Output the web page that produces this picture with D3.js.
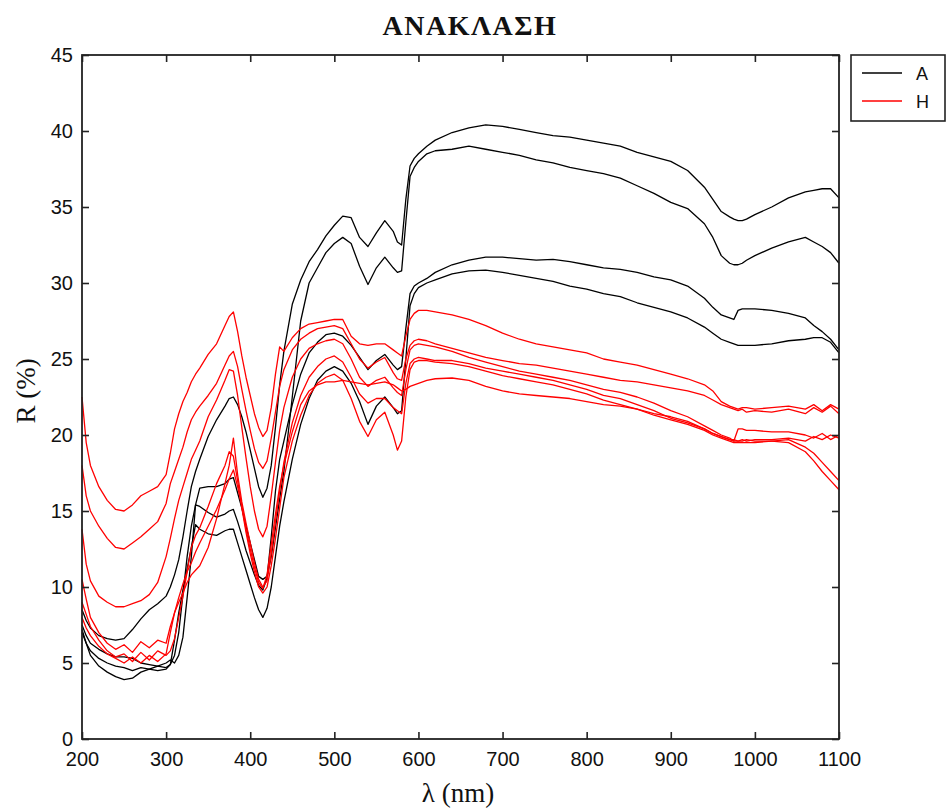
<!DOCTYPE html>
<html>
<head>
<meta charset="utf-8">
<script src="https://cdn.jsdelivr.net/npm/d3@7"></script>
<style>
  html, body { margin: 0; padding: 0; background: #fff; }
  svg { display: block; }
</style>
</head>
<body>
<svg id="chart" width="948" height="809"></svg>
<script>
// Wavelength grid (nm) shared by all spectra
const wavelengths = [
  200, 205, 210, 220, 230, 240, 250, 260, 270, 280, 290, 300,
  305, 310, 315, 320, 325, 330, 335, 340, 350, 360, 370, 375, 380, 385, 390, 395, 400,
  405, 410, 415, 420, 425, 430, 435, 440, 450, 460, 470, 480, 490, 500,
  510, 520, 530, 540, 550, 560, 570, 575, 580, 585, 590, 595, 600, 610, 620,
  640, 660, 680, 700, 720, 740, 760, 780, 800, 820, 840, 860, 880, 900, 920, 940,
  950, 960, 970, 975, 980, 985, 990, 1000, 1020, 1040, 1060, 1070, 1080, 1090, 1100
];

// Reflectance R (%) — group A
const reflA1 = [
  8.5, 7.8, 7.3, 6.8, 6.6, 6.5, 6.6, 7.2, 7.9, 8.5, 8.9, 9.4,
  10.0, 10.8, 11.8, 13.3, 15.0, 16.6, 17.6, 18.4, 19.9, 21.0, 21.9, 22.4, 22.5, 22.0, 21.2, 20.2, 19.0,
  17.8, 16.6, 15.9, 16.5, 18.0, 20.5, 23.3, 25.5, 28.6, 30.2, 31.4, 32.2, 33.1, 33.8,
  34.4, 34.3, 33.0, 32.4, 33.3, 34.1, 33.4, 32.7, 32.5, 35.5, 37.7, 38.2, 38.5, 39.0, 39.4,
  39.9, 40.2, 40.4, 40.3, 40.1, 39.9, 39.7, 39.6, 39.4, 39.2, 39.0, 38.6, 38.3, 38.0, 37.4, 36.3,
  35.5, 34.7, 34.35, 34.2, 34.1, 34.1, 34.2, 34.5, 35.0, 35.6, 36.0, 36.1, 36.2, 36.2, 35.6
];
const reflA2 = [
  7.5, 6.8, 6.3, 5.9, 5.6, 5.4, 5.4, 5.3, 5.0, 4.9, 4.8, 5.0,
  5.2, 5.0, 5.5, 6.7, 9.3, 12.0, 15.4, 16.5, 16.6, 16.6, 16.8, 17.1, 17.2, 16.2, 15.2, 14.0, 12.9,
  11.8, 10.7, 10.5, 10.7, 12.0, 13.9, 15.8, 17.6, 22.5, 27.5, 30.0, 31.0, 32.0, 32.6,
  33.0, 32.6, 31.1, 29.9, 31.0, 31.7, 31.0, 30.7, 30.8, 34.0, 37.0, 37.6, 38.0, 38.5, 38.7,
  38.8, 39.0, 38.8, 38.6, 38.4, 38.1, 37.9, 37.6, 37.4, 37.2, 36.9, 36.4, 35.9, 35.3, 34.9, 33.9,
  33.0, 31.8, 31.3, 31.2, 31.2, 31.3, 31.5, 31.8, 32.3, 32.7, 33.0, 32.7, 32.4, 32.0, 31.3
];
const reflA3 = [
  7.0, 6.3, 5.8, 5.3, 5.0, 4.8, 4.7, 4.5, 4.7, 4.6, 4.8, 4.7,
  4.9, 5.5, 7.0, 9.5, 12.0, 14.0, 15.4, 15.3, 14.9, 14.6, 14.8, 15.0, 15.1, 14.3, 13.4, 12.4, 11.6,
  10.8, 10.1, 9.8, 10.6, 13.3, 16.3, 18.4, 19.6, 22.0, 24.0, 25.4, 26.1, 26.6, 26.7,
  26.5, 25.9, 25.1, 24.3, 24.9, 25.3, 24.6, 24.3, 24.5, 27.0, 29.3, 29.8, 30.0, 30.3, 30.7,
  31.2, 31.5, 31.7, 31.7, 31.6, 31.5, 31.55, 31.4, 31.2, 31.0, 30.9, 30.7, 30.4, 30.2, 29.8, 29.0,
  28.4, 27.9, 27.7, 27.6, 28.2, 28.3, 28.3, 28.3, 28.2, 28.0, 27.7, 27.2, 26.8, 26.3, 25.6
];
const reflA4 = [
  7.2, 6.3, 5.5, 4.8, 4.4, 4.1, 3.9, 4.0, 4.4, 4.6, 4.5, 4.6,
  4.9, 6.5, 8.3, 9.8, 11.2, 12.6, 14.1, 13.8, 13.5, 13.4, 13.7, 13.8, 13.8, 12.9, 12.0, 11.1, 10.2,
  9.3, 8.5, 8.0, 8.6, 10.0, 12.0, 14.0, 15.6, 18.4, 20.7, 22.4, 23.6, 24.2, 24.5,
  24.2, 23.4, 22.2, 20.7, 21.9, 22.5, 21.8, 21.4, 21.6, 25.0, 28.5, 29.3, 29.7, 30.0, 30.2,
  30.6, 30.8, 30.85, 30.7, 30.5, 30.3, 30.1, 29.8, 29.6, 29.3, 29.1, 28.7, 28.4, 28.1, 27.7, 27.1,
  26.7, 26.3, 26.1, 26.0, 25.9, 25.9, 25.9, 25.9, 26.0, 26.2, 26.3, 26.4, 26.4, 26.1, 25.4
];

// Reflectance R (%) — group H
const reflH1 = [
  22.5, 19.5, 18.0, 16.6, 15.7, 15.1, 15.0, 15.4, 16.0, 16.3, 16.6, 17.4,
  18.8, 20.4, 21.4, 22.2, 22.8, 23.5, 24.0, 24.4, 25.3, 26.0, 27.2, 27.8, 28.1, 26.8, 25.2, 23.8, 22.6,
  21.4, 20.5, 19.9, 20.3, 21.8, 24.0, 25.8, 25.5, 26.4, 27.0, 27.3, 27.4, 27.5, 27.6,
  27.6, 26.5, 26.0, 25.9, 26.0, 26.0, 25.6, 25.4, 25.2, 26.5, 27.6, 28.0, 28.2, 28.2, 28.1,
  27.9, 27.6, 27.2, 26.7, 26.3, 26.0, 25.8, 25.6, 25.4, 25.0, 24.8, 24.6, 24.3, 24.0, 23.7, 23.3,
  22.9, 22.2, 21.9, 21.8, 21.7, 21.8, 21.8, 21.7, 21.8, 21.9, 21.7, 22.0, 21.6, 22.0, 21.7
];
const reflH2 = [
  18.0, 16.0, 15.0, 14.0, 13.2, 12.6, 12.5, 12.9, 13.3, 13.8, 14.3, 15.5,
  16.8, 17.6, 18.4, 19.2, 20.2, 21.0, 21.5, 21.9, 22.6, 23.4, 24.6, 25.2, 25.5, 24.5, 23.0, 21.6, 20.3,
  19.1, 18.2, 17.8, 18.3, 19.8, 21.5, 23.2, 24.3, 25.6, 26.3, 26.7, 27.0, 27.1, 27.2,
  27.0, 26.0, 25.0, 24.4, 24.8, 25.1, 24.1, 23.7, 23.6, 25.0, 25.9, 26.2, 26.3, 26.2, 26.0,
  25.7, 25.4, 25.1, 24.9, 24.7, 24.6, 24.4, 24.2, 24.0, 23.8, 23.6, 23.5, 23.3, 23.1, 22.9, 22.6,
  22.3, 22.0, 21.8, 21.7, 21.6, 21.7, 21.5, 21.6, 21.5, 21.7, 21.4, 21.8, 21.5, 21.9, 21.4
];
const reflH3 = [
  13.8, 11.5, 10.4, 9.4, 9.0, 8.7, 8.7, 8.9, 9.1, 9.5, 10.3, 12.0,
  13.2, 14.5, 15.7, 16.6, 17.5, 18.4, 19.0, 19.6, 21.2, 22.3, 23.6, 24.3, 24.2, 22.6, 20.5, 18.5, 16.6,
  15.0, 13.8, 13.3, 14.0, 16.0, 18.2, 20.3, 21.8, 23.8, 25.0, 25.7, 26.0, 26.2, 26.3,
  26.0, 25.0, 23.8, 23.2, 23.6, 23.8, 23.1, 22.8, 22.6, 24.3, 25.6, 25.9, 26.0, 25.9, 25.8,
  25.5, 25.1, 24.8, 24.5, 24.2, 24.0, 23.8, 23.6, 23.3, 23.0, 22.8, 22.5, 22.1, 21.6, 21.2, 20.6,
  20.3, 20.0, 19.8, 19.6, 20.4, 20.4, 20.3, 20.3, 20.2, 20.2, 20.0, 19.8, 20.1, 19.7, 20.0
];
const reflH4 = [
  10.5, 9.2, 8.0, 7.0, 6.3, 5.9, 6.2, 5.7, 6.4, 6.0, 6.5, 6.3,
  7.4, 8.3, 9.0, 9.6, 10.3, 10.8, 11.1, 11.4, 12.6, 14.5, 16.8, 18.0, 19.8, 17.4, 15.6, 14.2, 12.9,
  11.6, 10.5, 10.0, 10.4, 12.2, 14.3, 16.3, 18.2, 20.8, 22.6, 23.8, 24.5, 25.0, 25.2,
  24.8, 23.8, 22.7, 22.1, 22.4, 22.4, 21.8, 21.6, 21.4, 23.4, 24.7, 25.0, 25.1, 25.0, 24.9,
  24.9, 24.7, 24.4, 24.2, 24.0, 23.8, 23.6, 23.3, 23.0, 22.6, 22.4, 22.0, 21.6, 21.1, 20.8, 20.4,
  20.1, 19.9, 19.7, 19.7, 19.6, 19.6, 19.7, 19.6, 19.6, 19.5, 18.9, 18.3, 17.6, 17.0, 16.4
];
const reflH5 = [
  9.0, 8.2, 7.4, 6.5, 5.8, 5.4, 5.6, 5.1, 5.7, 5.2, 5.8, 5.5,
  5.8, 6.6, 8.0, 9.4, 11.0, 12.6, 13.4, 13.9, 15.3, 16.8, 18.0, 18.9, 18.6, 17.0, 15.2, 13.6, 12.2,
  11.0, 10.0, 9.6, 10.0, 11.4, 13.2, 15.2, 17.2, 19.6, 21.3, 22.6, 23.4, 23.8, 24.0,
  23.6, 22.4, 20.9, 19.9, 21.0, 21.5, 20.0, 19.0, 19.6, 22.5, 24.3, 24.8, 24.9, 24.9, 24.8,
  24.7, 24.5, 24.2, 23.9, 23.7, 23.5, 23.3, 23.0, 22.7, 22.3, 22.0, 21.7, 21.3, 21.0, 20.7, 20.3,
  20.0, 19.8, 19.6, 19.5, 19.5, 19.5, 19.5, 19.5, 19.6, 19.7, 19.2, 18.8, 18.2, 17.6, 17.0
];
const reflH6 = [
  8.0, 7.3, 6.8, 6.1, 5.6, 5.3, 5.0, 5.4, 5.0, 5.5, 5.1, 5.6,
  7.0, 8.3, 9.3, 10.2, 11.0, 11.6, 12.3, 12.9, 14.0, 15.1, 16.4, 17.1, 17.7, 16.6, 15.3, 13.8, 12.5,
  11.3, 10.3, 9.9, 10.8, 12.8, 14.8, 16.6, 18.0, 20.2, 22.0, 22.9, 23.3, 23.5, 23.5,
  23.6, 23.5, 23.4, 23.3, 23.4, 23.5, 23.3, 23.1, 22.9, 23.0, 23.2, 23.3, 23.4, 23.6, 23.7,
  23.75, 23.6, 23.2, 22.9, 22.7, 22.6, 22.5, 22.4, 22.2, 22.0, 21.9, 21.7, 21.4, 21.2, 20.9, 20.4,
  20.1, 19.9, 19.7, 19.6, 19.6, 19.7, 19.6, 19.7, 19.7, 19.8, 19.6, 19.9, 19.7, 20.0, 19.8
];

const groupA = [reflA1, reflA2, reflA3, reflA4];
const groupH = [reflH1, reflH2, reflH3, reflH4, reflH5, reflH6];

const xTicks = [200, 300, 400, 500, 600, 700, 800, 900, 1000, 1100];
const yTicks = [0, 5, 10, 15, 20, 25, 30, 35, 40, 45];
const legendLabels = ["A", "H"];
const legendColors = ["#000000", "#ff0000"];

const titleText = "ΑΝΑΚΛΑΣΗ";
const xLabelText = "λ (nm)";
const yLabelText = "R (%)";

// Plot frame edges
const frameLeft = 82, frameRight = 839, frameTop = 55, frameBottom = 739;

const svg = d3.select("#chart");

const x = d3.scaleLinear().domain([200, 1100]).range([frameLeft, frameRight]);
const y = d3.scaleLinear().domain([0, 45]).range([frameBottom, frameTop]);

const tickFont = "'Liberation Sans', Arial, sans-serif";
const serifFont = "'Liberation Serif', 'Times New Roman', serif";
const plainNumber = d3.format("d");

// Spectra
const line = d3.line()
  .x((d, i) => x(wavelengths[i]))
  .y(d => y(d));

const plot = svg.append("g");

plot.selectAll("path.a")
  .data(groupA)
  .join("path")
  .attr("class", "a")
  .attr("d", line)
  .attr("fill", "none")
  .attr("stroke", legendColors[0])
  .attr("stroke-width", 1.3)
  .attr("stroke-linejoin", "round");

plot.selectAll("path.h")
  .data(groupH)
  .join("path")
  .attr("class", "h")
  .attr("d", line)
  .attr("fill", "none")
  .attr("stroke", legendColors[1])
  .attr("stroke-width", 1.3)
  .attr("stroke-linejoin", "round");

// Axes with inward ticks on all four sides
function styleAxis(g) {
  g.select(".domain").remove();
  g.selectAll(".tick line").attr("stroke", "#222").attr("stroke-width", 1.6);
  g.selectAll(".tick text")
    .attr("fill", "#111")
    .style("font-family", tickFont)
    .style("font-size", "20px");
}

svg.append("g")
  .attr("transform", `translate(0,${frameBottom})`)
  .call(d3.axisBottom(x).tickValues(xTicks).tickFormat(plainNumber)
    .tickSizeInner(-7).tickSizeOuter(0).tickPadding(13))
  .call(styleAxis);

svg.append("g")
  .attr("transform", `translate(0,${frameTop})`)
  .call(d3.axisTop(x).tickValues(xTicks).tickSizeInner(-7).tickSizeOuter(0).tickFormat(""))
  .call(styleAxis);

svg.append("g")
  .attr("transform", `translate(${frameLeft},0)`)
  .call(d3.axisLeft(y).tickValues(yTicks).tickFormat(plainNumber)
    .tickSizeInner(-7).tickSizeOuter(0).tickPadding(9))
  .call(styleAxis);

svg.append("g")
  .attr("transform", `translate(${frameRight},0)`)
  .call(d3.axisRight(y).tickValues(yTicks).tickSizeInner(-7).tickSizeOuter(0).tickFormat(""))
  .call(styleAxis);

svg.append("rect")
  .attr("x", frameLeft).attr("y", frameTop)
  .attr("width", frameRight - frameLeft).attr("height", frameBottom - frameTop)
  .attr("fill", "none")
  .attr("stroke", "#222")
  .attr("stroke-width", 1.8);

// Title and axis labels
svg.append("text")
  .attr("x", 470).attr("y", 35)
  .attr("text-anchor", "middle")
  .style("font-family", serifFont)
  .style("font-weight", "bold")
  .style("font-size", "28px")
  .style("letter-spacing", "1.5px")
  .attr("fill", "#111")
  .text(titleText);

svg.append("text")
  .attr("x", 458).attr("y", 802)
  .attr("text-anchor", "middle")
  .style("font-family", serifFont)
  .style("font-size", "27px")
  .attr("fill", "#111")
  .text(xLabelText);

svg.append("text")
  .attr("transform", "translate(35,391) rotate(-90)")
  .attr("text-anchor", "middle")
  .style("font-family", serifFont)
  .style("font-size", "27px")
  .attr("fill", "#111")
  .text(yLabelText);

// Legend
const legend = svg.append("g");
legend.append("rect")
  .attr("x", 851).attr("y", 55)
  .attr("width", 94).attr("height", 66)
  .attr("fill", "#fff")
  .attr("stroke", "#222")
  .attr("stroke-width", 1.6);

const entries = legend.selectAll("g.entry")
  .data(legendLabels)
  .join("g")
  .attr("class", "entry")
  .attr("transform", (d, i) => `translate(0,${73 + i * 28})`);

entries.append("line")
  .attr("x1", 862).attr("x2", 902)
  .attr("y1", 0).attr("y2", 0)
  .attr("stroke", (d, i) => legendColors[i])
  .attr("stroke-width", 1.6);

entries.append("text")
  .attr("x", 916).attr("y", 7)
  .style("font-family", tickFont)
  .style("font-size", "18px")
  .attr("fill", "#111")
  .text(d => d);
</script>
</body>
</html>
